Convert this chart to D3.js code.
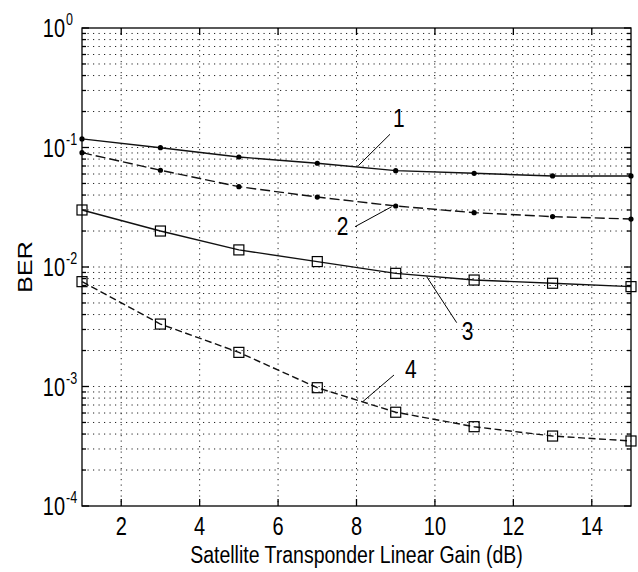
<!DOCTYPE html>
<html>
<head>
<meta charset="utf-8">
<script src="https://cdn.jsdelivr.net/npm/d3@7"></script>
<style>
  body { margin: 0; background: #fff; }
  text { font-family: "Liberation Sans", Arial, sans-serif; fill: #000; }
</style>
</head>
<body>
<div id="chart"></div>
<script>
// gain values (dB) where the markers sit
const gainDb = [1, 3, 5, 7, 9, 11, 13, 15];

// BER per curve
const ber1 = [0.118, 0.0996, 0.0833, 0.0738, 0.064, 0.0608, 0.0578, 0.0578];
const ber2 = [0.0905, 0.0645, 0.047, 0.0385, 0.0324, 0.0285, 0.0264, 0.0252];
const ber3 = [0.030, 0.020, 0.0139, 0.0111, 0.00885, 0.00778, 0.00731, 0.00685];
const ber4 = [0.00754, 0.00333, 0.00193, 0.000977, 0.000609, 0.000461, 0.000385, 0.00035];

const xTicks = [2, 4, 6, 8, 10, 12, 14];
const yExponents = [0, -1, -2, -3, -4];

// curve labels: [label, text x, text y, line from x, y, line to x, y] in data units
const callouts = [
  ['1', 9.08, 0.1484, 8.854, 0.129, 8.046, 0.0704],
  ['2', 7.643, 0.01853, 7.962, 0.02174, 8.898, 0.03196],
  ['3', 10.83, 0.00245, 10.555, 0.00342, 9.79, 0.0083],
  ['4', 9.385, 0.001172, 8.956, 0.001248, 8.158, 0.000746]
];

const width = 638, height = 572;
const margin = { top: 28, right: 7, bottom: 66, left: 82 };
const stretch = 1.25; // the picture's text is a bit tall

const svg = d3.select('#chart')
  .append('svg')
  .attr('width', width)
  .attr('height', height);

const x = d3.scaleLinear().domain([1, 15]).range([margin.left, width - margin.right]);
const y = d3.scaleLog().domain([1e-4, 1]).range([height - margin.bottom, margin.top]);

const x0 = x.range()[0], x1 = x.range()[1];
const yTop = y.range()[1], yBot = y.range()[0];

// dotted grid
const grid = svg.append('g')
  .attr('stroke', '#222')
  .attr('stroke-width', 1)
  .attr('stroke-dasharray', '1.2,4.3');

grid.selectAll('.hg')
  .data(y.ticks().filter(v => v > 1e-4 && v < 1))
  .enter().append('line')
  .attr('x1', x0).attr('x2', x1)
  .attr('y1', d => y(d)).attr('y2', d => y(d));

grid.selectAll('.vg')
  .data(xTicks)
  .enter().append('line')
  .attr('x1', d => x(d)).attr('x2', d => x(d))
  .attr('y1', yTop).attr('y2', yBot);

// box and tick marks
const ax = svg.append('g').attr('stroke', '#000').attr('stroke-width', 1.3);
ax.append('rect')
  .attr('x', x0).attr('y', yTop)
  .attr('width', x1 - x0).attr('height', yBot - yTop)
  .attr('fill', 'none');

xTicks.forEach(t => {
  ax.append('line').attr('x1', x(t)).attr('x2', x(t)).attr('y1', yBot).attr('y2', yBot - 7);
  ax.append('line').attr('x1', x(t)).attr('x2', x(t)).attr('y1', yTop).attr('y2', yTop + 7);
});
y.ticks().forEach(v => {
  const major = Math.abs(Math.log10(v) - Math.round(Math.log10(v))) < 1e-9;
  const len = major ? 7 : 4;
  ax.append('line').attr('x1', x0).attr('x2', x0 + len).attr('y1', y(v)).attr('y2', y(v));
  ax.append('line').attr('x1', x1).attr('x2', x1 - len).attr('y1', y(v)).attr('y2', y(v));
});

// tick labels
svg.selectAll('.xl')
  .data(xTicks)
  .enter().append('text')
  .attr('transform', d => `translate(${x(d)},${yBot + 29}) scale(1,${stretch})`)
  .attr('text-anchor', 'middle')
  .style('font-size', '20px')
  .text(d => d);

yExponents.forEach(e => {
  const py = y(Math.pow(10, e));
  svg.append('text')
    .attr('transform', `translate(65,${py + 9}) scale(1,${stretch})`)
    .attr('text-anchor', 'end')
    .style('font-size', '20px')
    .text('10');
  svg.append('text')
    .attr('transform', `translate(66,${py - 3}) scale(1,${stretch})`)
    .style('font-size', '12.5px')
    .text(e);
});

// axis titles
svg.append('text')
  .attr('transform', `translate(${(x0 + x1) / 2},563) scale(1,${stretch})`)
  .attr('text-anchor', 'middle')
  .style('font-size', '19.5px')
  .text('Satellite Transponder Linear Gain (dB)');

svg.append('text')
  .attr('transform', `translate(32,${(yTop + yBot) / 2}) rotate(-90) scale(${stretch},1)`)
  .attr('text-anchor', 'middle')
  .style('font-size', '20px')
  .text('BER');

// curves
const series = [
  { values: ber1, dash: null, marker: 'dot' },
  { values: ber2, dash: '10,4', marker: 'dot' },
  { values: ber3, dash: null, marker: 'square' },
  { values: ber4, dash: '7,3.5', marker: 'square' }
];

const line = d3.line()
  .x(d => x(d[0]))
  .y(d => y(d[1]));

series.forEach(s => {
  const pts = gainDb.map((g, i) => [g, s.values[i]]);
  svg.append('path')
    .datum(pts)
    .attr('d', line)
    .attr('fill', 'none')
    .attr('stroke', '#111')
    .attr('stroke-width', 1.4)
    .attr('stroke-dasharray', s.dash);

  if (s.marker === 'dot') {
    svg.selectAll(null)
      .data(pts)
      .enter().append('circle')
      .attr('cx', d => x(d[0]))
      .attr('cy', d => y(d[1]))
      .attr('r', 2.6)
      .attr('fill', '#000');
  } else {
    svg.selectAll(null)
      .data(pts)
      .enter().append('rect')
      .attr('x', d => x(d[0]) - 5)
      .attr('y', d => y(d[1]) - 5)
      .attr('width', 10)
      .attr('height', 10)
      .attr('fill', 'none')
      .attr('stroke', '#000')
      .attr('stroke-width', 1.2);
  }
});

// callouts
callouts.forEach(c => {
  svg.append('line')
    .attr('x1', x(c[3])).attr('y1', y(c[4]))
    .attr('x2', x(c[5])).attr('y2', y(c[6]))
    .attr('stroke', '#000')
    .attr('stroke-width', 1);
  svg.append('text')
    .attr('transform', `translate(${x(c[1])},${y(c[2])}) scale(1,${stretch})`)
    .attr('text-anchor', 'middle')
    .style('font-size', '21px')
    .text(c[0]);
});
</script>
</body>
</html>
